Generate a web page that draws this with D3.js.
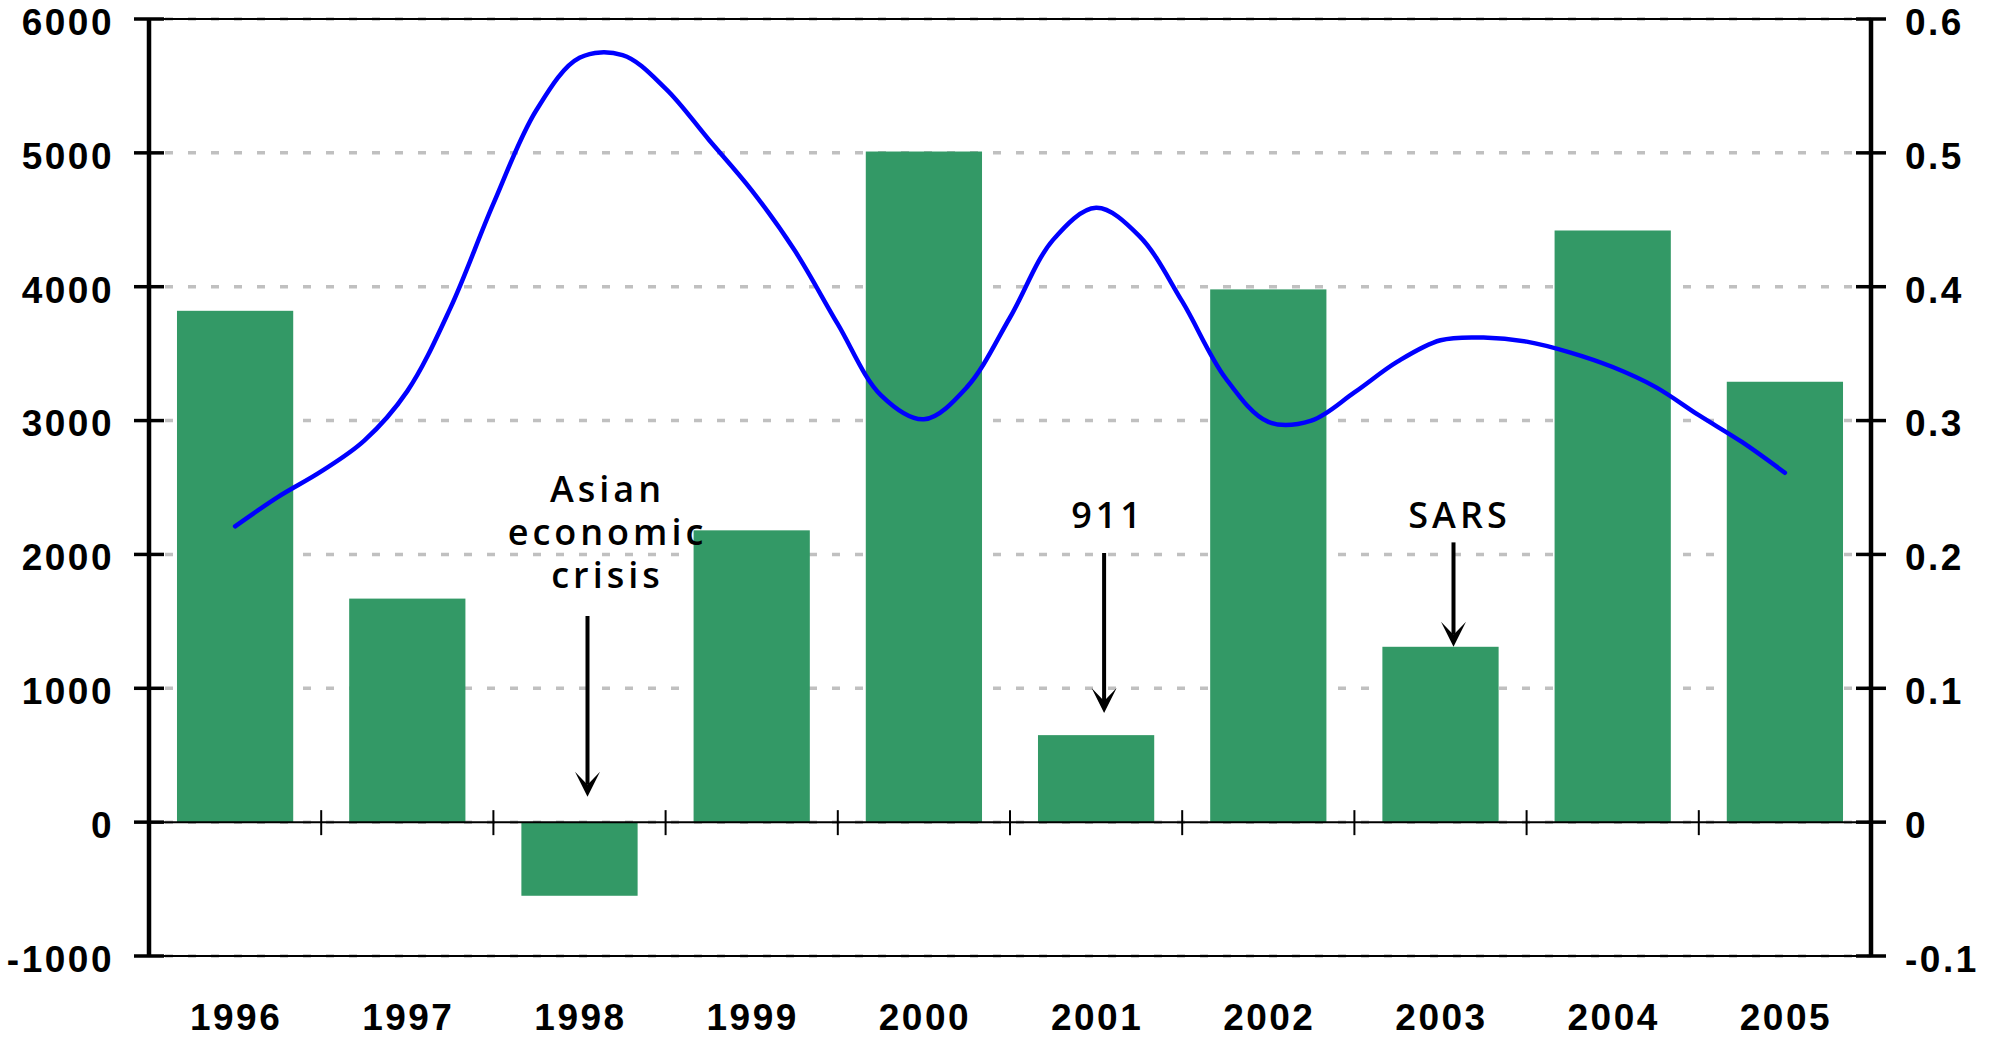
<!DOCTYPE html>
<html>
<head>
<meta charset="utf-8">
<script src="https://cdn.jsdelivr.net/npm/d3@7"></script>
<style>
  body { margin: 0; background: #fff; }
  svg { display: block; }
</style>
</head>
<body>
<div id="chart"></div>
<script>
const years = ["1996", "1997", "1998", "1999", "2000", "2001", "2002", "2003", "2004", "2005"];
const barValues = [3820, 1670, -550, 2180, 5010, 650, 3980, 1310, 4420, 3290];

// quarterly readings of the blue line (right axis), 1996 to 2005
const lineValues = [0.221, 0.243, 0.262, 0.285, 0.322, 0.384, 0.462, 0.532, 0.571, 0.573,
                    0.548, 0.510, 0.472, 0.427, 0.372, 0.319, 0.301, 0.325, 0.377, 0.435,
                    0.459, 0.438, 0.389, 0.332, 0.299, 0.300, 0.321, 0.344, 0.360, 0.362,
                    0.359, 0.351, 0.340, 0.325, 0.304, 0.284, 0.261];

const leftTicks = [-1000, 0, 1000, 2000, 3000, 4000, 5000, 6000];
const leftTickLabels = ["-1000", "0", "1000", "2000", "3000", "4000", "5000", "6000"];
const rightTicks = [-0.1, 0, 0.1, 0.2, 0.3, 0.4, 0.5, 0.6];
const rightTickLabels = ["-0.1", "0", "0.1", "0.2", "0.3", "0.4", "0.5", "0.6"];

const annotYears = ["1998", "2001", "2003"];
const annotLabels = [["Asian", "economic", "crisis"], ["911"], ["SARS"]];
const annotArrowFrom = [1540, 2010, 2090];
const annotArrowTo = [190, 815, 1310];
const annotTextAt = [2390, 2200, 2200];

const W = 1993, H = 1037;
const pLeft = 149, pRight = 1871, pTop = 19, pBottom = 956;

const svg = d3.select("#chart")
              .append("svg")
              .attr("width", W)
              .attr("height", H);

const x = d3.scaleBand()
            .domain(years)
            .range([pLeft, pRight])
            .padding(0);

const xt = d3.scaleLinear()
             .domain([1995.5, 2005.5])
             .range([pLeft, pRight]);

const y = d3.scaleLinear()
            .domain([-1000, 6000])
            .range([pBottom, pTop]);

const y2 = d3.scaleLinear()
             .domain([-0.1, 0.6])
             .range([pBottom, pTop]);

const barW = x.bandwidth() * 0.675;

// gridlines
svg.append("g")
   .selectAll("line")
   .data(leftTicks)
   .enter()
   .append("line")
   .attr("x1", pLeft + 16)
   .attr("x2", pRight)
   .attr("y1", d => y(d))
   .attr("y2", d => y(d))
   .attr("stroke", "#c0c0c0")
   .attr("stroke-width", 3.5)
   .attr("stroke-dasharray", "8,15");

// frame top / bottom
[6000, -1000].forEach(v => {
  svg.append("line")
     .attr("x1", pLeft).attr("x2", pRight)
     .attr("y1", y(v)).attr("y2", y(v))
     .attr("stroke", "#000").attr("stroke-width", 2);
});

// bars
svg.append("g")
   .selectAll("rect")
   .data(years)
   .enter()
   .append("rect")
   .attr("x", d => x(d) + (x.bandwidth() - barW) / 2)
   .attr("y", (d, i) => y(Math.max(0, barValues[i])))
   .attr("width", barW)
   .attr("height", (d, i) => Math.abs(y(barValues[i]) - y(0)))
   .attr("fill", "#339966");

// zero line + category ticks
svg.append("line")
   .attr("x1", pLeft).attr("x2", pRight)
   .attr("y1", y(0)).attr("y2", y(0))
   .attr("stroke", "#000").attr("stroke-width", 2);

svg.append("g")
   .selectAll("line")
   .data(years.slice(1))
   .enter()
   .append("line")
   .attr("x1", d => x(d)).attr("x2", d => x(d))
   .attr("y1", y(0) - 12).attr("y2", y(0) + 13)
   .attr("stroke", "#000").attr("stroke-width", 2);

// left axis
const gl = svg.append("g");
gl.append("line")
  .attr("x1", pLeft).attr("x2", pLeft)
  .attr("y1", pTop).attr("y2", pBottom)
  .attr("stroke", "#000").attr("stroke-width", 4.5);
gl.selectAll(".tk")
  .data(leftTicks)
  .enter()
  .append("line")
  .attr("x1", pLeft - 15).attr("x2", pLeft + 15)
  .attr("y1", d => y(d)).attr("y2", d => y(d))
  .attr("stroke", "#000").attr("stroke-width", 3.5);
gl.selectAll("text")
  .data(leftTicks)
  .enter()
  .append("text")
  .attr("x", 114)
  .attr("y", d => y(d))
  .attr("dy", "0.43em")
  .attr("text-anchor", "end")
  .style("font-family", "'Liberation Sans', Arial, sans-serif")
  .style("font-weight", "bold")
  .style("font-size", "37px")
  .style("letter-spacing", "2.5px")
  .text((d, i) => leftTickLabels[i]);

// right axis
const gr = svg.append("g");
gr.append("line")
  .attr("x1", pRight).attr("x2", pRight)
  .attr("y1", pTop).attr("y2", pBottom)
  .attr("stroke", "#000").attr("stroke-width", 4.5);
gr.selectAll(".tk")
  .data(rightTicks)
  .enter()
  .append("line")
  .attr("x1", pRight - 15).attr("x2", pRight + 15)
  .attr("y1", d => y2(d)).attr("y2", d => y2(d))
  .attr("stroke", "#000").attr("stroke-width", 3.5);
gr.selectAll("text")
  .data(rightTicks)
  .enter()
  .append("text")
  .attr("x", 1905)
  .attr("y", d => y2(d))
  .attr("dy", "0.43em")
  .attr("text-anchor", "start")
  .style("font-family", "'Liberation Sans', Arial, sans-serif")
  .style("font-weight", "bold")
  .style("font-size", "37px")
  .style("letter-spacing", "2.5px")
  .text((d, i) => rightTickLabels[i]);

// year labels
svg.append("g")
   .selectAll("text")
   .data(years)
   .enter()
   .append("text")
   .attr("x", d => x(d) + x.bandwidth() / 2 + 1)
   .attr("y", 1030)
   .attr("text-anchor", "middle")
   .style("font-family", "'Liberation Sans', Arial, sans-serif")
   .style("font-weight", "bold")
   .style("font-size", "37px")
   .style("letter-spacing", "2.5px")
   .text(d => d);

// blue line
const line = d3.line()
               .x((d, i) => xt(1996 + i / 4))
               .y(d => y2(d))
               .curve(d3.curveCatmullRom.alpha(0.5));

svg.append("path")
   .datum(lineValues)
   .attr("d", line)
   .attr("fill", "none")
   .attr("stroke", "#0000ff")
   .attr("stroke-width", 4.5)
   .attr("stroke-linecap", "round")
   .attr("stroke-linejoin", "round");

// annotations
const arrowDx = [8, 8, 13];
const textDx = [26, 10, 17];
annotYears.forEach((yr, i) => {
  const ax = x(yr) + x.bandwidth() / 2 + arrowDx[i];
  const y0 = y(annotArrowFrom[i]);
  const y1 = y(annotArrowTo[i]);
  svg.append("line")
     .attr("x1", ax).attr("x2", ax)
     .attr("y1", y0).attr("y2", y1 - 12)
     .attr("stroke", "#000").attr("stroke-width", 4);
  svg.append("path")
     .attr("d", `M${ax},${y1} L${ax - 12.5},${y1 - 25} L${ax},${y1 - 12} L${ax + 12.5},${y1 - 25} Z`)
     .attr("fill", "#000");

  const t = svg.append("text")
               .attr("text-anchor", "middle")
               .style("font-family", "'Open Sans', 'Noto Sans', sans-serif")
               .style("font-weight", "600")
               .style("font-size", "36px")
               .style("letter-spacing", "4px")
               .attr("fill", "#000");
  annotLabels[i].forEach((s, j) => {
    t.append("tspan")
     .attr("x", x(yr) + x.bandwidth() / 2 + textDx[i] + 2)
     .attr("y", y(annotTextAt[i]) + j * 43)
     .text(s);
  });
});
</script>
</body>
</html>
